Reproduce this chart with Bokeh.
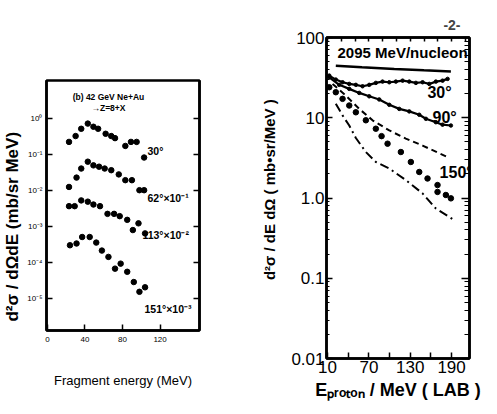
from bokeh.plotting import figure
from bokeh.models import FixedTicker, LogTicker, LogAxis, LinearAxis, Label, CustomJSTickFormatter
from bokeh.layouts import row, column
from bokeh.embed import file_html
from bokeh.resources import INLINE

# ---------------- Left panel data: 42 GeV Ne + Au -> Z=8 + X ----------------
frag_e_30 = [23, 30, 36, 43, 49, 54, 62, 68, 72, 83, 89, 95, 103]
frag_v_30 = [0.22, 0.32, 0.51, 0.71, 0.58, 0.51, 0.37, 0.32, 0.28, 0.17, 0.22, 0.22, 0.081]

frag_e_62 = [23, 31, 36, 43, 49, 55, 61, 68, 76, 83, 90, 98, 103]
frag_v_62 = [0.0123, 0.0224, 0.040, 0.062, 0.049, 0.045, 0.040, 0.036, 0.0275, 0.019, 0.019, 0.010, 0.010]

frag_e_113 = [23, 29, 36, 43, 49, 56, 64, 71, 77, 85, 91, 97, 104]
frag_v_113 = [0.0036, 0.0036, 0.0052, 0.0048, 0.0040, 0.0036, 0.0022, 0.0022, 0.0019, 0.0015, 0.00078, 0.0012, 0.00063]

frag_e_151 = [24, 31, 37, 45, 52, 58, 65, 72, 78, 85, 92, 98, 104]
frag_v_151 = [2.95e-4, 3.3e-4, 5.0e-4, 5.0e-4, 3.5e-4, 2.1e-4, 1.4e-4, 6.6e-5, 9.1e-5, 5.4e-5, 2.8e-5, 1.5e-5, 2.0e-5]

left_x_ticks = [0, 40, 80, 120]
left_y_ticks = [1e-5, 1e-4, 1e-3, 1e-2, 1e-1, 1]

# ---------------- Right panel data: 2095 MeV/nucleon protons ----------------
solid_e = [22, 60, 106.8, 150, 189]
solid_v = [44.6, 42.5, 40.6, 39.0, 37.8]

p30_e = [12.5, 22.0, 31.8, 41.5, 51.1, 60.8, 70.5, 80.1, 89.8, 99.6, 109.1, 118.9, 128.6, 138.2, 147.9, 157.6, 167.2, 176.9, 184.2]
p30_v = [33.5, 29.9, 27.7, 26.4, 25.7, 24.7, 25.7, 27.2, 28.2, 27.7, 28.2, 29.0, 28.2, 27.2, 27.7, 26.4, 28.2, 29.0, 30.5]

p90_e = [12.5, 27.0, 41.5, 56.0, 70.5, 85.0, 99.6, 114.1, 128.6, 143.1, 152.7, 167.2, 176.9, 189]
p90_v = [31.9, 25.7, 22.9, 20.4, 18.5, 16.9, 14.5, 12.9, 12.0, 10.9, 9.7, 8.8, 8.2, 8.0]

dash_e = [17.3, 36.6, 56.0, 75.3, 99.6, 123.6, 147.9, 184.2]
dash_v = [26.4, 18.9, 12.9, 9.3, 6.95, 5.5, 4.5, 3.24]

p150_e = [12.5, 22.0, 31.8, 41.5, 51.1, 65.6, 80.1, 88.4, 97.1, 116.4, 130.9, 143.1, 155.1, 169.6, 169.6, 181.7, 189]
p150_v = [24.0, 20.8, 17.2, 14.2, 11.7, 9.3, 7.3, 5.9, 4.75, 3.74, 2.81, 2.11, 1.75, 1.45, 1.19, 1.09, 0.99]

dd_e = [22, 31.8, 41.5, 51.1, 65.6, 80.1, 99.6, 123.6, 147.9, 167.2, 193.9]
dd_v = [14.9, 10.7, 8.0, 5.6, 3.74, 2.81, 2.33, 1.67, 1.14, 0.74, 0.53]

right_x_ticks = [10, 40, 70, 100, 130, 160, 190]
right_x_labels = [10, 70, 130, 190]
right_top_ticks = [10, 30, 50, 70, 90, 110, 130, 150, 170, 190, 210]

FONT = "Liberation Sans"
NB = "\u00a0"


def style_axis(ax, label_size):
    ax.axis_line_color = "black"
    ax.axis_line_width = 2.5
    ax.major_tick_in = 6
    ax.major_tick_out = 0
    ax.minor_tick_in = 3
    ax.minor_tick_out = 0
    ax.major_tick_line_color = "black"
    ax.minor_tick_line_color = "black"
    ax.major_tick_line_width = 1.5
    ax.minor_tick_line_width = 1.2
    ax.major_label_text_font = FONT
    ax.major_label_text_font_size = label_size
    ax.major_label_text_color = "black"
    ax.axis_label_text_font = FONT
    ax.axis_label_text_font_style = "bold"
    ax.axis_label_text_color = "black"


blank = CustomJSTickFormatter(code="return '';")

# ================= Left figure =================
p1 = figure(frame_width=153, frame_height=250, x_range=(-1, 162), y_range=(1.26e-6, 11.2),
            y_axis_type="log", output_backend="svg", toolbar_location=None,
            min_border_left=41, min_border_right=56, min_border_top=80, min_border_bottom=68)
p1.grid.visible = False
p1.outline_line_color = "black"
p1.outline_line_width = 2.5

p1.xaxis.ticker = FixedTicker(ticks=left_x_ticks)
p1.yaxis.ticker = FixedTicker(ticks=left_y_ticks)
sup_code = """
const sup = {'-':'\u207b','0':'\u2070','1':'\u00b9','2':'\u00b2','3':'\u00b3','4':'\u2074','5':'\u2075','6':'\u2076','7':'\u2077','8':'\u2078','9':'\u2079'};
const e = Math.round(Math.log10(tick));
return '10' + String(e).split('').map(c => sup[c]).join('');
"""
p1.yaxis.formatter = CustomJSTickFormatter(code=sup_code)
for ax in (p1.xaxis[0], p1.yaxis[0]):
    style_axis(ax, "8px")
p1.yaxis.major_label_standoff = 4
p1.xaxis.major_label_standoff = 6
p1.yaxis.axis_label = "d\u00b2\u03c3 / d\u03a9dE (mb/sr MeV)" + NB * 9
p1.yaxis.axis_label_text_font_size = "17px"
p1.yaxis.axis_label_standoff = 2
p1.xaxis.axis_label = "Fragment energy (MeV)"
p1.xaxis.axis_label_text_font_size = "13px"
p1.xaxis.axis_label_text_font_style = "normal"
p1.xaxis.axis_label_standoff = 28

r_ax1 = LogAxis(ticker=FixedTicker(ticks=left_y_ticks), formatter=blank)
style_axis(r_ax1, "1px")
p1.add_layout(r_ax1, "right")

for xs, ys in [(frag_e_30, frag_v_30), (frag_e_62, frag_v_62),
               (frag_e_113, frag_v_113), (frag_e_151, frag_v_151)]:
    p1.scatter(xs, ys, size=5.5, color="black")

lab_kw = dict(text_font=FONT, text_font_style="bold", text_color="black")
p1.add_layout(Label(x=65, y=3.83, text="(b) 42 GeV Ne+Au", text_align="center",
                    text_baseline="middle", text_font_size="8.5px", **lab_kw))
p1.add_layout(Label(x=65, y=1.9, text="\u2192Z=8+X", text_align="center",
                    text_baseline="middle", text_font_size="8.5px", **lab_kw))
p1.add_layout(Label(x=106.6, y=0.121, text="30\u00b0", text_baseline="middle",
                    text_font_size="10.5px", **lab_kw))
p1.add_layout(Label(x=106.6, y=0.0060, text="62\u00b0\u00d710\u207b\u00b9", text_baseline="middle",
                    text_font_size="10.5px", **lab_kw))
p1.add_layout(Label(x=101.2, y=5.6e-4, text="113\u00b0\u00d710\u207b\u00b2", text_baseline="middle",
                    text_font_size="10.5px", **lab_kw))
p1.add_layout(Label(x=103.4, y=4.9e-6, text="151\u00b0\u00d710\u207b\u00b3", text_baseline="middle",
                    text_font_size="10.5px", **lab_kw))

# ================= Right figure =================
p2 = figure(frame_width=143, frame_height=321, x_range=(8.5, 216), y_range=(0.01, 100),
            y_axis_type="log", output_backend="svg", toolbar_location=None,
            min_border_left=71, min_border_right=17, min_border_top=37, min_border_bottom=46)
p2.grid.visible = False
p2.outline_line_color = "black"
p2.outline_line_width = 2.5
p2.title.text = "-2-"
p2.title.align = "right"
p2.title.text_font = FONT
p2.title.text_font_size = "14px"
p2.title.text_font_style = "bold"
p2.title.offset = 9
p2.title.standoff = 15

p2.xaxis.ticker = FixedTicker(ticks=right_x_ticks)
p2.xaxis.formatter = CustomJSTickFormatter(
    args=dict(show=right_x_labels),
    code="return show.includes(Math.round(tick)) ? String(Math.round(tick)) : '';")
p2.yaxis.ticker = LogTicker(mantissas=[1], num_minor_ticks=10)
p2.yaxis.formatter = CustomJSTickFormatter(
    code="const e = Math.round(Math.log10(tick)); return ['0.01','0.1','1.0','10','100'][e+2];")
for ax in (p2.xaxis[0], p2.yaxis[0]):
    style_axis(ax, "17px")
p2.yaxis.major_label_standoff = 2
p2.xaxis.major_label_standoff = 2
p2.yaxis.axis_label = NB * 4 + "d\u00b2\u03c3 / dE d\u03a9 ( mb\u2022sr/MeV )"
p2.yaxis.axis_label_text_font_size = "15px"
p2.yaxis.axis_label_standoff = 10
p2.xaxis.axis_label = "E\u209a\u1d63\u2092\u209c\u2092\u2099 / MeV ( LAB )"
p2.xaxis.axis_label_text_font_size = "18px"
p2.xaxis.axis_label_standoff = 4

r_ax2 = LogAxis(ticker=LogTicker(mantissas=[1], num_minor_ticks=10), formatter=blank)
style_axis(r_ax2, "1px")
r_ax2.major_tick_in = 8
r_ax2.minor_tick_in = 5
p2.add_layout(r_ax2, "right")

t_ax2 = LinearAxis(ticker=FixedTicker(ticks=right_top_ticks), formatter=blank)
style_axis(t_ax2, "1px")
t_ax2.major_tick_in = 4
t_ax2.major_label_standoff = 0
p2.add_layout(t_ax2, "above")

p2.line(solid_e, solid_v, line_color="black", line_width=2.5)
p2.line(p30_e, p30_v, line_color="black", line_width=2.2)
p2.scatter(p30_e, p30_v, size=3.5, color="black")
p2.line(p90_e, p90_v, line_color="black", line_width=2.2)
p2.scatter(p90_e, p90_v, size=3.5, color="black")
p2.line(dash_e, dash_v, line_color="black", line_width=2, line_dash="6 4")
p2.scatter(p150_e, p150_v, size=5.5, color="black")
p2.line(dd_e, dd_v, line_color="black", line_width=2, line_dash="9 4 2 4")

p2.add_layout(Label(x=24.5, y=65, text="2095 MeV/nucleon", text_baseline="middle",
                    text_font_size="15px", **lab_kw))
p2.add_layout(Label(x=155, y=20.8, text="30\u00b0", text_baseline="middle",
                    text_font_size="16px", **lab_kw))
p2.add_layout(Label(x=162.4, y=10.2, text="90\u00b0", text_baseline="middle",
                    text_font_size="16px", **lab_kw))
p2.add_layout(Label(x=172.6, y=2.1, text="150\u00b0", text_baseline="middle",
                    text_font_size="16px", **lab_kw))

layout = row(column(p1), column(p2))
open("out.html", "w").write(file_html(layout, INLINE))
